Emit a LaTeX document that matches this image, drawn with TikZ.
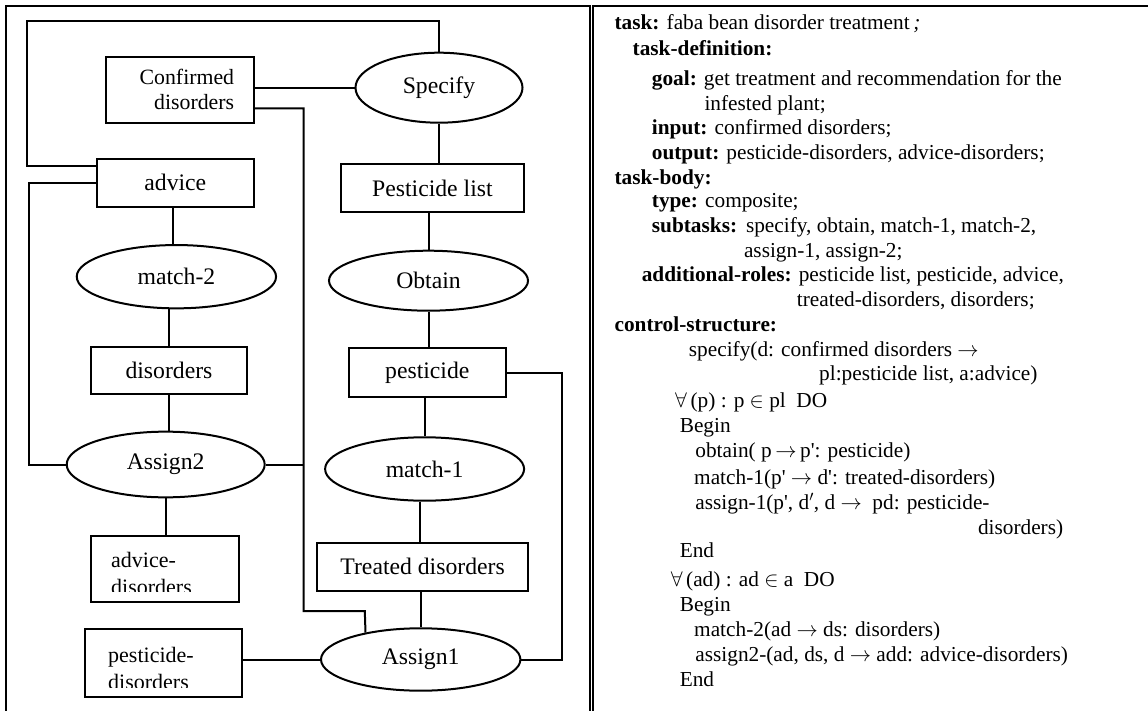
\RequirePackage{fix-cm}
\documentclass[tikz,border=0pt]{standalone}
\usepackage{fontspec}
\setmainfont{Liberation Serif}[Ligatures=TeXOff]
\usetikzlibrary{shapes.geometric}

\tikzset{
  wire/.style={line width=2pt, line join=miter},
  databox/.style={draw, rectangle, line width=2pt, inner sep=0pt,
    font=\fontsize{23.7}{28}\selectfont},
  taskoval/.style={draw, ellipse, line width=2pt, inner sep=0pt,
    font=\fontsize{23.7}{28}\selectfont},
  boxline/.style={anchor=base west, inner sep=0pt,
    font=\fontsize{22}{26}\selectfont},
  spec/.style={anchor=base west, inner sep=0pt,
    font=\fontsize{21.3}{25}\selectfont},
}

\begin{document}
\begin{tikzpicture}[x=1pt, y=-1pt]
  \useasboundingbox (0,0) rectangle (1148,711);
  \fill[white] (0,0) rectangle (1148,711);

  % panel frames
  \draw[wire] (6,711) -- (6,6) -- (589.5,6) -- (589.5,711);
  \draw[wire] (593,711) -- (593,6) -- (1148,6);

  % ---------- task diagram ----------
  \node[databox, minimum width=148pt, minimum height=66pt,
        align=right, text width=109pt, font=\fontsize{21.8}{25}\selectfont]
        (cd) at (179.6,89.7) {Confirmed\\disorders};
  \node[taskoval, minimum width=167pt, minimum height=70pt] (specify) at (439,87.7) {Specify};
  \node[databox, minimum width=156.7pt, minimum height=47.7pt] (advice) at (175.3,182.8) {advice};
  \node[databox, minimum width=183.3pt, minimum height=48pt] (pl) at (432.4,188.3) {Pesticide list};
  \node[taskoval, minimum width=199.3pt, minimum height=63.3pt] (match2) at (176.4,276.7) {match-2};
  \node[taskoval, minimum width=199pt, minimum height=60pt] (obtain) at (428.5,280.7) {Obtain};
  \node[databox, minimum width=156.7pt, minimum height=47.6pt] (disorders) at (169,370.5) {disorders};
  \node[databox, minimum width=156.6pt, minimum height=48.4pt] (pesticide) at (427.3,372.5) {pesticide};
  \node[taskoval, minimum width=198pt, minimum height=65.7pt] (assign2) at (165.7,464.5) {Assign2};
  \node[taskoval, minimum width=199pt, minimum height=63.4pt] (match1) at (424.6,469) {match-1};
  \node[databox, minimum width=210.4pt, minimum height=48pt] (td) at (422.6,566.7) {Treated disorders};
  \node[databox, minimum width=148.5pt, minimum height=66pt] (ad) at (165.2,569.4) {};
  \node[taskoval, minimum width=199.4pt, minimum height=62.4pt] (assign1) at (420.7,659.5) {Assign1};
  \node[databox, minimum width=156.5pt, minimum height=67.7pt] (pd) at (163.4,662.8) {};

  % two-line labels cut off at the lower edge of their boxes
  \begin{scope}
    \clip (ad.north west) rectangle (239.6,591);
    \node[boxline] (adtop) at (111,567.3) {advice-};
    \node[boxline] (adbot) at (111,594) {disorders};
  \end{scope}
  \begin{scope}
    \clip (pd.north west) rectangle (241.5,687);
    \node[boxline] (pdtop) at (108,662.3) {pesticide-};
    \node[boxline] (pdbot) at (108,689) {disorders};
  \end{scope}

  % bend points of the connectors
  \coordinate (la) at (26.7,20.7);
  \coordinate (lb) at (29,0);
  \coordinate (c1) at (303.7,611);
  \coordinate (c2) at (364.8,611);
  \coordinate (rp) at (561.9,0);

  % connectors
  \draw[wire] (specify.north) |- (la) |- ([yshift=17.1pt]advice.west);
  \draw[wire] (cd.east |- specify.west) -- (specify.west);
  \draw[wire] ([yshift=-18.6pt]cd.east) -| (c1) -- (c2) -- (assign1.154);
  \draw[wire] (advice.west) -- (advice.west -| lb) |- (assign2.west);
  \draw[wire] (assign2.east) -- (assign2.east -| c1);
  \draw[wire] (specify.south) -- (specify.south |- pl.north);
  \draw[wire] (obtain.north |- pl.south) -- (obtain.north);
  \draw[wire] (obtain.south) -- (obtain.south |- pesticide.north);
  \draw[wire] (match1.north |- pesticide.south) -- (match1.north);
  \draw[wire] ([xshift=-3pt]td.north |- match1.south) -- ([xshift=-3pt]td.north);
  \draw[wire] (assign1.north |- td.south) -- (assign1.north);
  \draw[wire] (pesticide.east) -- (pesticide.east -| rp) |- (assign1.east);
  \draw[wire] ([xshift=-2pt]advice.south) -- ([xshift=-2pt]advice.south |- match2.north);
  \draw[wire] (disorders.north |- match2.south) -- (disorders.north);
  \draw[wire] (disorders.south) -- (disorders.south |- assign2.north);
  \draw[wire] (assign2.south) -- (assign2.south |- ad.north);
  \draw[wire] (pd.east |- assign1.west) -- (assign1.west);

  % ---------- task specification ----------
  \node[spec] (s1)  at (614.4,29.3)  {\textbf{task:} faba bean disorder treatment\,\textit{;}};
  \node[spec] (s2)  at (632.5,56)    {\textbf{task-definition:}};
  \node[spec] (s3)  at (651.7,85.3)  {\textbf{goal:} get treatment and recommendation for the};
  \node[spec] (s4)  at (704.3,111)   {infested plant;};
  \node[spec] (s5)  at (651.7,134.3) {\textbf{input:} confirmed disorders;};
  \node[spec] (s6)  at (651.7,159.3) {\textbf{output:} pesticide-disorders, advice-disorders;};
  \node[spec] (s7)  at (614.4,184.3) {\textbf{task-body:}};
  \node[spec] (s8)  at (651.7,207.7) {\textbf{type:} composite;};
  \node[spec] (s9)  at (651.7,232.7) {\textbf{subtasks:}\ \,specify, obtain, match-1, match-2,};
  \node[spec] (s10) at (743.8,257.7) {assign-1, assign-2;};
  \node[spec] (s11) at (641.6,281)   {\textbf{additional-roles:} pesticide list, pesticide, advice,};
  \node[spec] (s12) at (796.7,306)   {treated-disorders, disorders;};
  \node[spec] (s13) at (614.4,331)   {\textbf{control-structure:}};
  \node[spec] (s14) at (688.7,356)   {specify(d: confirmed disorders $\rightarrow$};
  \node[spec] (s15) at (819,380)     {pl:pesticide list, a:advice)};
  \node[spec] (s16) at (675,407.7)   {$\forall$\,(p) : p $\in$ pl\ \ DO};
  \node[spec] (s17) at (679.6,432.7) {Begin};
  \node[spec] (s18) at (695.2,457.7) {obtain( p$\,\rightarrow\,$p': pesticide)};
  \node[spec] (s19) at (694,484.3)   {match-1(p' $\rightarrow$ d': treated-disorders)};
  \node[spec] (s20) at (695.2,509.3) {assign-1(p', d$'$, d $\rightarrow$\ \ pd: pesticide-};
  \node[spec] (s21) at (977.8,534.3) {disorders)};
  \node[spec] (s22) at (679.6,557.7) {End};
  \node[spec] (s23) at (670.6,586)   {$\forall$\,(ad) : ad $\in$ a\ \ DO};
  \node[spec] (s24) at (679.6,611)   {Begin};
  \node[spec] (s25) at (694,636)     {match-2(ad $\rightarrow$ ds: disorders)};
  \node[spec] (s26) at (695.2,661)   {assign2-(ad, ds, d $\rightarrow$ add: advice-disorders)};
  \node[spec] (s27) at (679.6,686)   {End};
\end{tikzpicture}
\end{document}
